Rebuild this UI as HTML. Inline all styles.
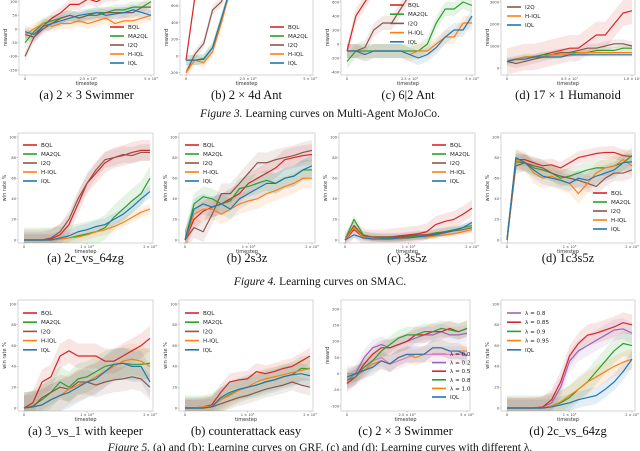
<!DOCTYPE html>
<html><head><meta charset="utf-8">
<style>
html,body{margin:0;padding:0;background:#fff;}
svg{display:block;}
.tk{font-family:"DejaVu Sans","Liberation Sans",sans-serif;font-size:3.6px;fill:#444;}
.al{font-family:"DejaVu Sans","Liberation Sans",sans-serif;font-size:5px;fill:#333;}
.lg{font-family:"DejaVu Sans","Liberation Sans",sans-serif;font-size:5.6px;fill:#222;}
.cap{font-family:"Liberation Serif",serif;font-size:12.5px;fill:#111;}
.fig{font-family:"Liberation Serif",serif;font-size:11.5px;fill:#111;}
</style></head>
<body>
<svg id="chart" width="640" height="451" viewBox="0 0 640 451" xmlns="http://www.w3.org/2000/svg">
<defs id="defs"></defs>
<text class="fig" x="320" y="117" text-anchor="middle"><tspan font-style="italic">Figure 3.</tspan> Learning curves on Multi-Agent MoJoCo.</text>
<text class="fig" x="320" y="285" text-anchor="middle"><tspan font-style="italic">Figure 4.</tspan> Learning curves on SMAC.</text>
<text class="fig" x="320" y="451" text-anchor="middle"><tspan font-style="italic">Figure 5.</tspan> (a) and (b): Learning curves on GRF. (c) and (d): Learning curves with different λ.</text>
</svg>
<script>
const timestepFrac = [0,0.071,0.143,0.214,0.286,0.357,0.429,0.5,0.571,0.643,0.714,0.786,0.857,0.929,1];
const methods = ["BQL","MA2QL","I2Q","H-IQL","IQL"];
const lambdasSwim = ["λ = 0.0","λ = 0.2","λ = 0.5","λ = 0.8","λ = 1.0","IQL"];
const lambdasZg = ["λ = 0.8","λ = 0.85","λ = 0.9","λ = 0.95","IQL"];

// (a) 2x3 Swimmer
const swim_bql = [-20,-30,10,40,60,90,90,110,100,120,120,130,140,140,140];
const swim_ma2ql = [-50,-10,20,30,40,50,40,50,60,60,70,70,80,80,100];
const swim_i2q = [-100,-30,0,20,40,50,40,50,50,60,60,60,60,80,80];
const swim_hiql = [-20,0,20,10,20,20,30,20,30,40,20,30,30,40,50];
const swim_iql = [-10,-20,10,20,30,40,50,55,60,50,55,60,70,60,50];
// (b) 2x4d Ant
const ant_bql = [-50,700,1000,1000,1000,1000,1000,1000,1000,1000,1000,1000,1000,1000,1000];
const ant_ma2ql = [-50,-50,-30,100,450,800,1000,1000,1000,1000,1000,1000,1000,1000,1000];
const ant_i2q = [-200,20,150,550,650,900,1000,1000,1000,1000,1000,1000,1000,1000,1000];
const ant_hiql = [-200,-50,-80,50,400,800,1000,1000,1000,1000,1000,1000,1000,1000,1000];
const ant_iql = [-50,-50,-40,100,450,800,1000,1000,1000,1000,1000,1000,1000,1000,1000];
// (c) 6|2 Ant
const ant62_bql = [-100,400,600,800,900,1000,1000,1000,1000,1000,1000,1000,1000,1000,1000];
const ant62_ma2ql = [-250,-100,-100,-100,-100,-100,-100,-100,-100,0,300,500,500,600,550];
const ant62_i2q = [-100,-100,-50,200,300,300,500,700,900,1000,1000,1000,1000,1000,1000];
const ant62_hiql = [-100,-100,-150,-100,-100,-100,-100,-150,-100,-100,0,100,100,300,300];
const ant62_iql = [-100,-100,-150,-100,-100,-100,-100,-150,-200,-150,-50,100,200,200,400];
// (d) 17x1 Humanoid
const hum_bql = [300,400,500,500,600,700,800,900,900,1200,1500,1500,2000,2500,2600];
const hum_ma2ql = [300,400,500,500,600,600,700,700,700,700,800,800,800,900,900];
const hum_i2q = [300,200,300,400,500,600,700,700,800,900,900,1000,1100,1100,1000];
const hum_hiql = [300,400,500,500,500,600,600,600,700,700,700,700,700,700,700];
const hum_iql = [300,400,400,500,500,500,500,600,600,600,600,600,600,600,600];
// SMAC 2c_vs_64zg
const zg_bql = [0,0,0,1,5,15,35,55,65,75,80,82,85,87,87];
const zg_ma2ql = [0,0,0,0,1,2,4,6,8,12,22,30,38,45,60];
const zg_i2q = [0,0,0,2,8,20,40,55,68,78,80,83,82,85,85];
const zg_hiql = [0,0,0,0,1,2,3,5,8,10,13,17,22,27,30];
const zg_iql = [0,0,0,0,2,4,8,10,13,15,20,25,32,40,47];
// 2s3z
const s3z_bql = [0,20,28,32,35,40,45,55,60,65,70,78,80,82,83];
const s3z_ma2ql = [0,35,42,40,35,38,50,52,55,58,55,60,62,68,68];
const s3z_i2q = [0,12,8,25,45,45,55,65,75,75,78,80,82,85,87];
const s3z_hiql = [0,25,30,30,25,30,35,38,40,45,48,52,55,60,60];
const s3z_iql = [0,30,35,32,35,30,40,45,50,55,55,60,62,68,72];
// 3s5z
const s5z_bql = [0,10,3,2,2,3,4,5,6,8,15,18,20,25,31];
const s5z_ma2ql = [0,20,5,3,2,2,2,3,4,5,7,8,10,12,14];
const s5z_i2q = [0,14,4,3,3,3,3,4,5,5,6,8,9,10,12];
const s5z_hiql = [0,12,3,2,1,1,1,2,3,3,4,5,6,8,10];
const s5z_iql = [0,5,2,1,1,1,2,2,3,4,5,7,9,12,17];
// 1c3s5z
const c3_bql = [0,78,78,75,72,73,70,75,80,82,84,85,85,82,81];
const c3_ma2ql = [0,76,75,70,68,65,60,62,65,68,70,70,72,75,82];
const c3_i2q = [0,72,75,72,70,65,62,60,58,55,52,60,65,65,68];
const c3_hiql = [0,78,76,65,60,62,58,55,45,55,65,70,72,78,72];
const c3_iql = [0,80,75,68,62,60,58,55,60,58,62,65,68,75,76];
// GRF 3_vs_1
const k_bql = [0,5,25,30,50,55,50,50,50,45,45,50,55,60,67];
const k_ma2ql = [0,2,8,15,25,20,28,30,35,40,42,43,42,42,43];
const k_i2q = [0,1,10,15,20,18,25,25,22,25,27,28,30,28,20];
const k_hiql = [0,1,3,8,12,18,22,25,30,35,40,45,47,45,40];
const k_iql = [0,1,3,8,12,15,20,25,28,35,42,43,40,40,25];
// counterattack easy
const ca_bql = [0,0,1,3,15,25,27,28,35,33,35,38,40,45,50];
const ca_ma2ql = [0,0,0,2,8,13,17,20,22,25,27,30,32,38,38];
const ca_i2q = [0,0,0,1,4,7,10,12,15,18,20,22,25,22,20];
const ca_hiql = [0,0,1,2,8,12,17,20,25,28,30,32,34,36,38];
const ca_iql = [0,0,0,1,10,15,18,20,22,25,27,30,32,33,31];
// lambda swimmer
const ls_l00 = [-30,-10,10,40,50,30,40,50,60,60,60,60,60,60,60];
const ls_l02 = [-20,0,50,80,90,80,90,100,110,120,120,130,120,120,125];
const ls_l05 = [-30,-10,30,60,80,80,90,100,120,120,130,130,140,130,140];
const ls_l08 = [-20,-10,20,40,70,90,110,120,120,130,130,140,135,130,140];
const ls_l10 = [0,0,10,30,40,30,50,60,50,60,80,80,70,70,70];
const ls_iql = [-10,0,10,20,40,30,50,60,60,60,80,80,70,70,55];
// lambda 2c_vs_64zg
const lz_l080 = [0,0,0,0,1,5,20,45,55,60,65,70,75,76,72];
const lz_l085 = [0,0,0,0,1,8,25,50,62,70,72,75,78,82,80];
const lz_l090 = [0,0,0,0,0,2,5,10,18,25,35,45,55,62,60];
const lz_l095 = [0,0,0,0,0,2,6,12,18,25,30,35,40,44,47];
const lz_iql = [0,0,0,0,0,1,3,5,8,10,12,18,25,35,47];

const C5 = ["#d62728","#2ca02c","#8c564b","#ff7f0e","#1f77b4"];
const C6 = ["#e377c2","#9467bd","#d62728","#2ca02c","#ff7f0e","#1f77b4"];
const CL = ["#9467bd","#d62728","#2ca02c","#ff7f0e","#1f77b4"];
const xt5 = ["0","2.5 × 10⁶","5 × 10⁶"], xt2 = ["0","1 × 10⁶","2 × 10⁶"], xt7 = ["0","0.5 × 10⁷","1.0 × 10⁷"];
const wr = [0,20,40,60,80,100];

const panels = [
 {id:"swimmer-2x3",cap:"(a) 2 × 3 Swimmer",x0:25,x1:151,top:-5,bot:75,v0:0,p0:29,v1:-150,p1:70,yt:[100,50,0,-50,-100,-150],xt:xt5,yl:"reward",names:methods,cols:C5,series:[swim_bql,swim_ma2ql,swim_i2q,swim_hiql,swim_iql],sp:[20,20,20,20,20],lx:110,ly:27,ls:9,capY:99},
 {id:"ant-2x4d",cap:"(b) 2 × 4d Ant",x0:186,x1:310,top:-5,bot:75,v0:0,p0:56,v1:-200,p1:72.7,yt:[600,400,200,0,-200],xt:xt5,yl:"reward",names:methods,cols:C5,series:[ant_bql,ant_ma2ql,ant_i2q,ant_hiql,ant_iql],sp:[60,60,60,60,60],lx:270,ly:27,ls:9,capY:99},
 {id:"ant-6-2",cap:"(c) 6|2 Ant",x0:347,x1:472,top:-5,bot:75,v0:0,p0:44,v1:-400,p1:72,yt:[600,400,200,0,-200,-400],xt:xt5,yl:"reward",names:methods,cols:C5,series:[ant62_bql,ant62_ma2ql,ant62_i2q,ant62_hiql,ant62_iql],sp:[100,100,100,100,100],lx:390,ly:5,ls:9.2,capY:99},
 {id:"humanoid-17x1",cap:"(d) 17 × 1 Humanoid",x0:507,x1:632,top:-5,bot:75,v0:0,p0:68,v1:3000,p1:2,yt:[3000,2000,1000,0],xt:xt7,yl:"reward",names:methods,cols:C5,series:[hum_bql,hum_ma2ql,hum_i2q,hum_hiql,hum_iql],sp:[600,150,200,100,80],lx:507,ly:-11,ls:9,capY:99},
 {id:"smac-2c-vs-64zg",cap:"(a) 2c_vs_64zg",x0:24,x1:150,top:133,bot:243,v0:0,p0:240,v1:100,p1:137,yt:wr,xt:xt2,yl:"win rate %",names:methods,cols:C5,series:[zg_bql,zg_ma2ql,zg_i2q,zg_hiql,zg_iql],sp:[10,12,8,5,6],lx:23,ly:145,ls:9,capY:262},
 {id:"smac-2s3z",cap:"(b) 2s3z",x0:185,x1:312,top:133,bot:243,v0:0,p0:240,v1:100,p1:137,yt:wr,xt:xt2,yl:"win rate %",names:methods,cols:C5,series:[s3z_bql,s3z_ma2ql,s3z_i2q,s3z_hiql,s3z_iql],sp:[10,10,10,10,10],lx:185,ly:145,ls:9,capY:262},
 {id:"smac-3s5z",cap:"(c) 3s5z",x0:345,x1:472,top:133,bot:243,v0:0,p0:240,v1:100,p1:137,yt:wr,xt:xt2,yl:"win rate %",names:methods,cols:C5,series:[s5z_bql,s5z_ma2ql,s5z_i2q,s5z_hiql,s5z_iql],sp:[8,4,4,3,3],lx:432,ly:145,ls:9,capY:262},
 {id:"smac-1c3s5z",cap:"(d) 1c3s5z",x0:507,x1:632,top:133,bot:243,v0:0,p0:240,v1:100,p1:137,yt:wr,xt:xt2,yl:"win rate %",names:methods,cols:C5,series:[c3_bql,c3_ma2ql,c3_i2q,c3_hiql,c3_iql],sp:[6,8,8,10,8],lx:593,ly:193,ls:9,capY:262},
 {id:"grf-3-vs-1",cap:"(a) 3_vs_1 with keeper",x0:24,x1:150,top:300,bot:411,v0:0,p0:408,v1:100,p1:304,yt:wr,xt:xt2,yl:"win rate %",names:methods,cols:C5,series:[k_bql,k_ma2ql,k_i2q,k_hiql,k_iql],sp:[12,15,12,15,15],lx:23,ly:313,ls:9.2,capY:435},
 {id:"grf-counterattack",cap:"(b) counterattack easy",x0:185,x1:310,top:300,bot:411,v0:0,p0:408,v1:100,p1:304,yt:wr,xt:xt2,yl:"win rate %",names:methods,cols:C5,series:[ca_bql,ca_ma2ql,ca_i2q,ca_hiql,ca_iql],sp:[8,12,8,10,10],lx:185,ly:313,ls:9.2,capY:435},
 {id:"lambda-swimmer",cap:"(c) 2 × 3 Swimmer",x0:347,x1:467,top:300,bot:411,v0:0,p0:373.7,v1:200,p1:309,yt:[200,150,100,50,0,-50,-100],xt:xt5,yl:"reward",names:lambdasSwim,cols:C6,series:[ls_l00,ls_l02,ls_l05,ls_l08,ls_l10,ls_iql],sp:[25,25,25,25,25,25],lx:432,ly:354,ls:8.6,capY:435},
 {id:"lambda-2c-vs-64zg",cap:"(d) 2c_vs_64zg",x0:507,x1:632,top:300,bot:411,v0:0,p0:408,v1:100,p1:304,yt:wr,xt:xt2,yl:"win rate %",names:lambdasZg,cols:CL,series:[lz_l080,lz_l085,lz_l090,lz_l095,lz_iql],sp:[10,10,12,10,8],lx:507,ly:313,ls:9.2,capY:435}
];

const NS = "http://www.w3.org/2000/svg";
const svg = document.getElementById('chart');
const defs = document.getElementById('defs');
function mk(tag, attrs, parent){const e=document.createElementNS(NS,tag);for(const k in attrs)e.setAttribute(k,attrs[k]);(parent||svg).appendChild(e);return e;}

panels.forEach((p,pi)=>{
  const g = mk('g',{});
  
  
  const L = p.x0-6, R = p.x1+3;
  const sx = f => p.x0 + f*(p.x1-p.x0);
  const sy = v => p.p0 + (v-p.v0)*(p.p1-p.p0)/(p.v1-p.v0);
  const cp = mk('clipPath',{id:'cp'+pi},defs);
  mk('rect',{x:L,y:Math.max(p.top,0),width:R-L,height:p.bot-Math.max(p.top,0)},cp);
  const frame = mk('rect',{x:L,y:p.top,width:R-L,height:p.bot-p.top,fill:'#fff',stroke:'#bbb','stroke-width':0.6},g);
  
  
  p.yt.forEach(v=>{
    const y = sy(v); if(y<0||y>p.bot+1) return;
    mk('line',{x1:L-1.5,x2:L,y1:y,y2:y,stroke:'#888','stroke-width':0.4},g);
    const t = mk('text',{x:L-2,y:y+1.3,'text-anchor':'end',class:'tk'},g);
    t.textContent = v;
    
    
  });
  p.xt.forEach((s,i)=>{
    const x = sx(i/(p.xt.length-1));
    mk('line',{x1:x,x2:x,y1:p.bot,y2:p.bot+1.5,stroke:'#888','stroke-width':0.4},g);
    const t = mk('text',{x:x,y:p.bot+5,'text-anchor':'middle',class:'tk'},g);
    t.textContent = s;
    
    
  });
  const xl = mk('text',{x:(L+R)/2,y:p.bot+10,'text-anchor':'middle',class:'al'},g);
  xl.textContent = 'timestep';
  
  
  const ymid = (Math.max(p.top,0)+p.bot)/2;
  const yl = mk('text',{x:L-12,y:ymid,'text-anchor':'middle',class:'al',transform:`rotate(-90 ${L-12} ${ymid})`},g);
  yl.textContent = p.yl;
  
  
  const pg = mk('g',{'clip-path':`url(#cp${pi})`},g);
  p.series.forEach((s,si)=>{
    const up = s.map((v,i)=>sx(timestepFrac[i])+','+sy(v+p.sp[si]));
    const dn = s.map((v,i)=>sx(timestepFrac[i])+','+sy(v-p.sp[si])).reverse();
    const b = mk('polygon',{points:up.concat(dn).join(' '),fill:p.cols[si],'fill-opacity':0.12,stroke:'none'},pg);
    
    
  });
  p.series.forEach((s,si)=>{
    const pts = s.map((v,i)=>sx(timestepFrac[i])+','+sy(v)).join(' ');
    const l = mk('polyline',{points:pts,fill:'none',stroke:p.cols[si],'stroke-width':1.2,'stroke-linejoin':'round'},pg);
    
    
  });
  p.names.forEach((n,i)=>{
    const y = p.ly + i*p.ls; if(y<-1) return;
    const lg = mk('g',{},g);
    
    
    mk('line',{x1:p.lx,x2:p.lx+14,y1:y,y2:y,stroke:p.cols[i],'stroke-width':1.6},lg);
    const t = mk('text',{x:p.lx+18,y:y+2,class:'lg'},lg);
    t.textContent = n;
  });
  const c = mk('text',{x:(L+R)/2,y:p.capY,'text-anchor':'middle',class:'cap'},g);
  c.textContent = p.cap;
  
  
});
</script>
</body></html>
